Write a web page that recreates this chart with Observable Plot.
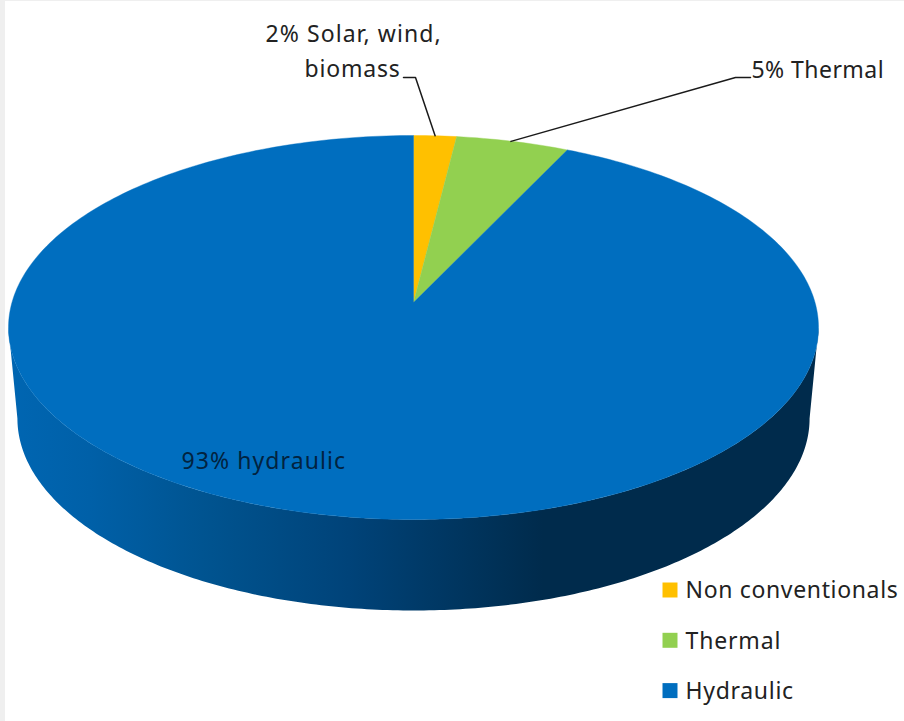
<!DOCTYPE html>
<html><head><meta charset="utf-8">
<style>
html,body{margin:0;padding:0;background:#efefef;overflow:hidden}
#c{position:absolute;left:5px;top:1px;width:899px;height:720px;background:#fff}
svg{display:block;background:#fff}
</style>
<script src="https://cdn.jsdelivr.net/npm/d3@7"></script>
<script src="https://cdn.jsdelivr.net/npm/@observablehq/plot@0.6"></script>
</head><body><div id="c"></div>
<script>
const categories = ["Non conventionals", "Thermal", "Hydraulic"];
const shares = [1.7, 4.5, 93.8];
const colors = ["#ffc000", "#92d050", "#006ebf"];
const gradientOffsets = [0, 0.1, 0.25, 0.42, 0.52, 0.66, 1];
const gradientColors = ["#0066b2", "#0060a8", "#00538f", "#004379", "#003966", "#002b4c", "#002b4c"];
const font = "'Noto Sans', sans-serif";

// pixel geometry of the tilted disc, in SVG pixels
const W = 899, H = 720;
const apexY = 0.13, depth = 0.474, baseRx = 0.978;
const xScale = {axis: null, domain: [-1, 1], range: [3, 813]};
const yScale = {axis: null, domain: [1, -1], range: [134, 518]};
const toX = px => -1 + (px - 3) / 405;
const toY = py => 1 - (py - 134) / 192;

// slices of the top face
const total = d3.sum(shares);
let acc = 0;
const slicePts = [];
categories.forEach((name, i) => {
  const a0 = acc / total * 2 * Math.PI;
  acc += shares[i];
  const a1 = acc / total * 2 * Math.PI;
  const n = Math.max(4, Math.ceil((a1 - a0) * 60));
  slicePts.push({name, x: 0, y: apexY});
  for (let k = 0; k <= n; k++) {
    const a = a0 + (a1 - a0) * k / n;
    slicePts.push({name, x: Math.sin(a), y: Math.cos(a)});
  }
  slicePts.push({name, x: 0, y: apexY});
});

// visible front wall
const wall = [];
for (let k = 0; k <= 240; k++) {
  const t = Math.PI * k / 240;
  wall.push({x: -Math.cos(t), y: -Math.sin(t)});
}
for (let k = 240; k >= 0; k--) {
  const t = Math.PI * k / 240;
  wall.push({x: -baseRx * Math.cos(t), y: -depth - Math.sin(t)});
}

const midAngle = s => (s / total) * 2 * Math.PI;
const leaders = [
  {k: "a", x: toX(398), y: toY(76)},
  {k: "a", x: toX(410), y: toY(76)},
  {k: "a", x: Math.sin(midAngle(shares[0] / 2)), y: Math.cos(midAngle(shares[0] / 2))},
  {k: "b", x: toX(745), y: toY(76)},
  {k: "b", x: toX(730), y: toY(76)},
  {k: "b", x: Math.sin(midAngle(shares[0] + shares[1] / 2)) - 0.005, y: Math.cos(midAngle(shares[0] + shares[1] / 2))}
];

const label = (text, dx, dy, extra = {}) => Plot.text([text], {
  text: d => d, frameAnchor: "top-left", dx, dy, lineAnchor: "middle", textAnchor: "start",
  fontSize: 23, fill: "#222", fontFamily: font, ...extra
});

const legendMarks = categories.flatMap((n, i) => [
  Plot.dot([n], {frameAnchor: "top-left", dx: 664.5, dy: 588.5 + i * 50.3, symbol: "square", r: 8.46, fill: d => d, stroke: "none"}),
  label(n, 680, 589.5 + i * 50.3)
]);

const chart = Plot.plot({
  width: W, height: H, margin: 0,
  x: xScale, y: yScale,
  color: {domain: categories, range: colors},
  marks: [
    () => {
      const defs = d3.create("svg:defs");
      const g = defs.append("linearGradient").attr("id", "side").attr("x1", 0).attr("x2", 1).attr("y1", 0).attr("y2", 0);
      gradientOffsets.forEach((o, i) => g.append("stop").attr("offset", o).attr("stop-color", gradientColors[i]));
      return defs.node();
    },
    Plot.line(wall, {x: "x", y: "y", fill: "url(#side)", stroke: "none"}),
    Plot.line(slicePts, {x: "x", y: "y", z: "name", fill: "name", stroke: "name", strokeWidth: 0.4}),
    Plot.line(leaders, {x: "x", y: "y", z: "k", stroke: "#1a1a1a", strokeWidth: 1.5}),
    label("2% Solar, wind,", 260, 33),
    label("biomass", 299, 68),
    label("5% Thermal", 746, 69),
    label("93% hydraulic", 176, 460, {fill: "#02233f"}),
    ...legendMarks
  ]
});
const tracking = new Map([
  ["2% Solar, wind,", 1.07], ["biomass", 0.8], ["5% Thermal", 0.45], ["93% hydraulic", 1.08],
  ["Non conventionals", 0.65], ["Thermal", 0.85], ["Hydraulic", 0.7]
]);
chart.querySelectorAll("text").forEach(t => {
  const s = tracking.get(t.textContent);
  if (s != null) t.style.letterSpacing = s + "px";
});
document.getElementById("c").append(chart);
</script></body></html>
